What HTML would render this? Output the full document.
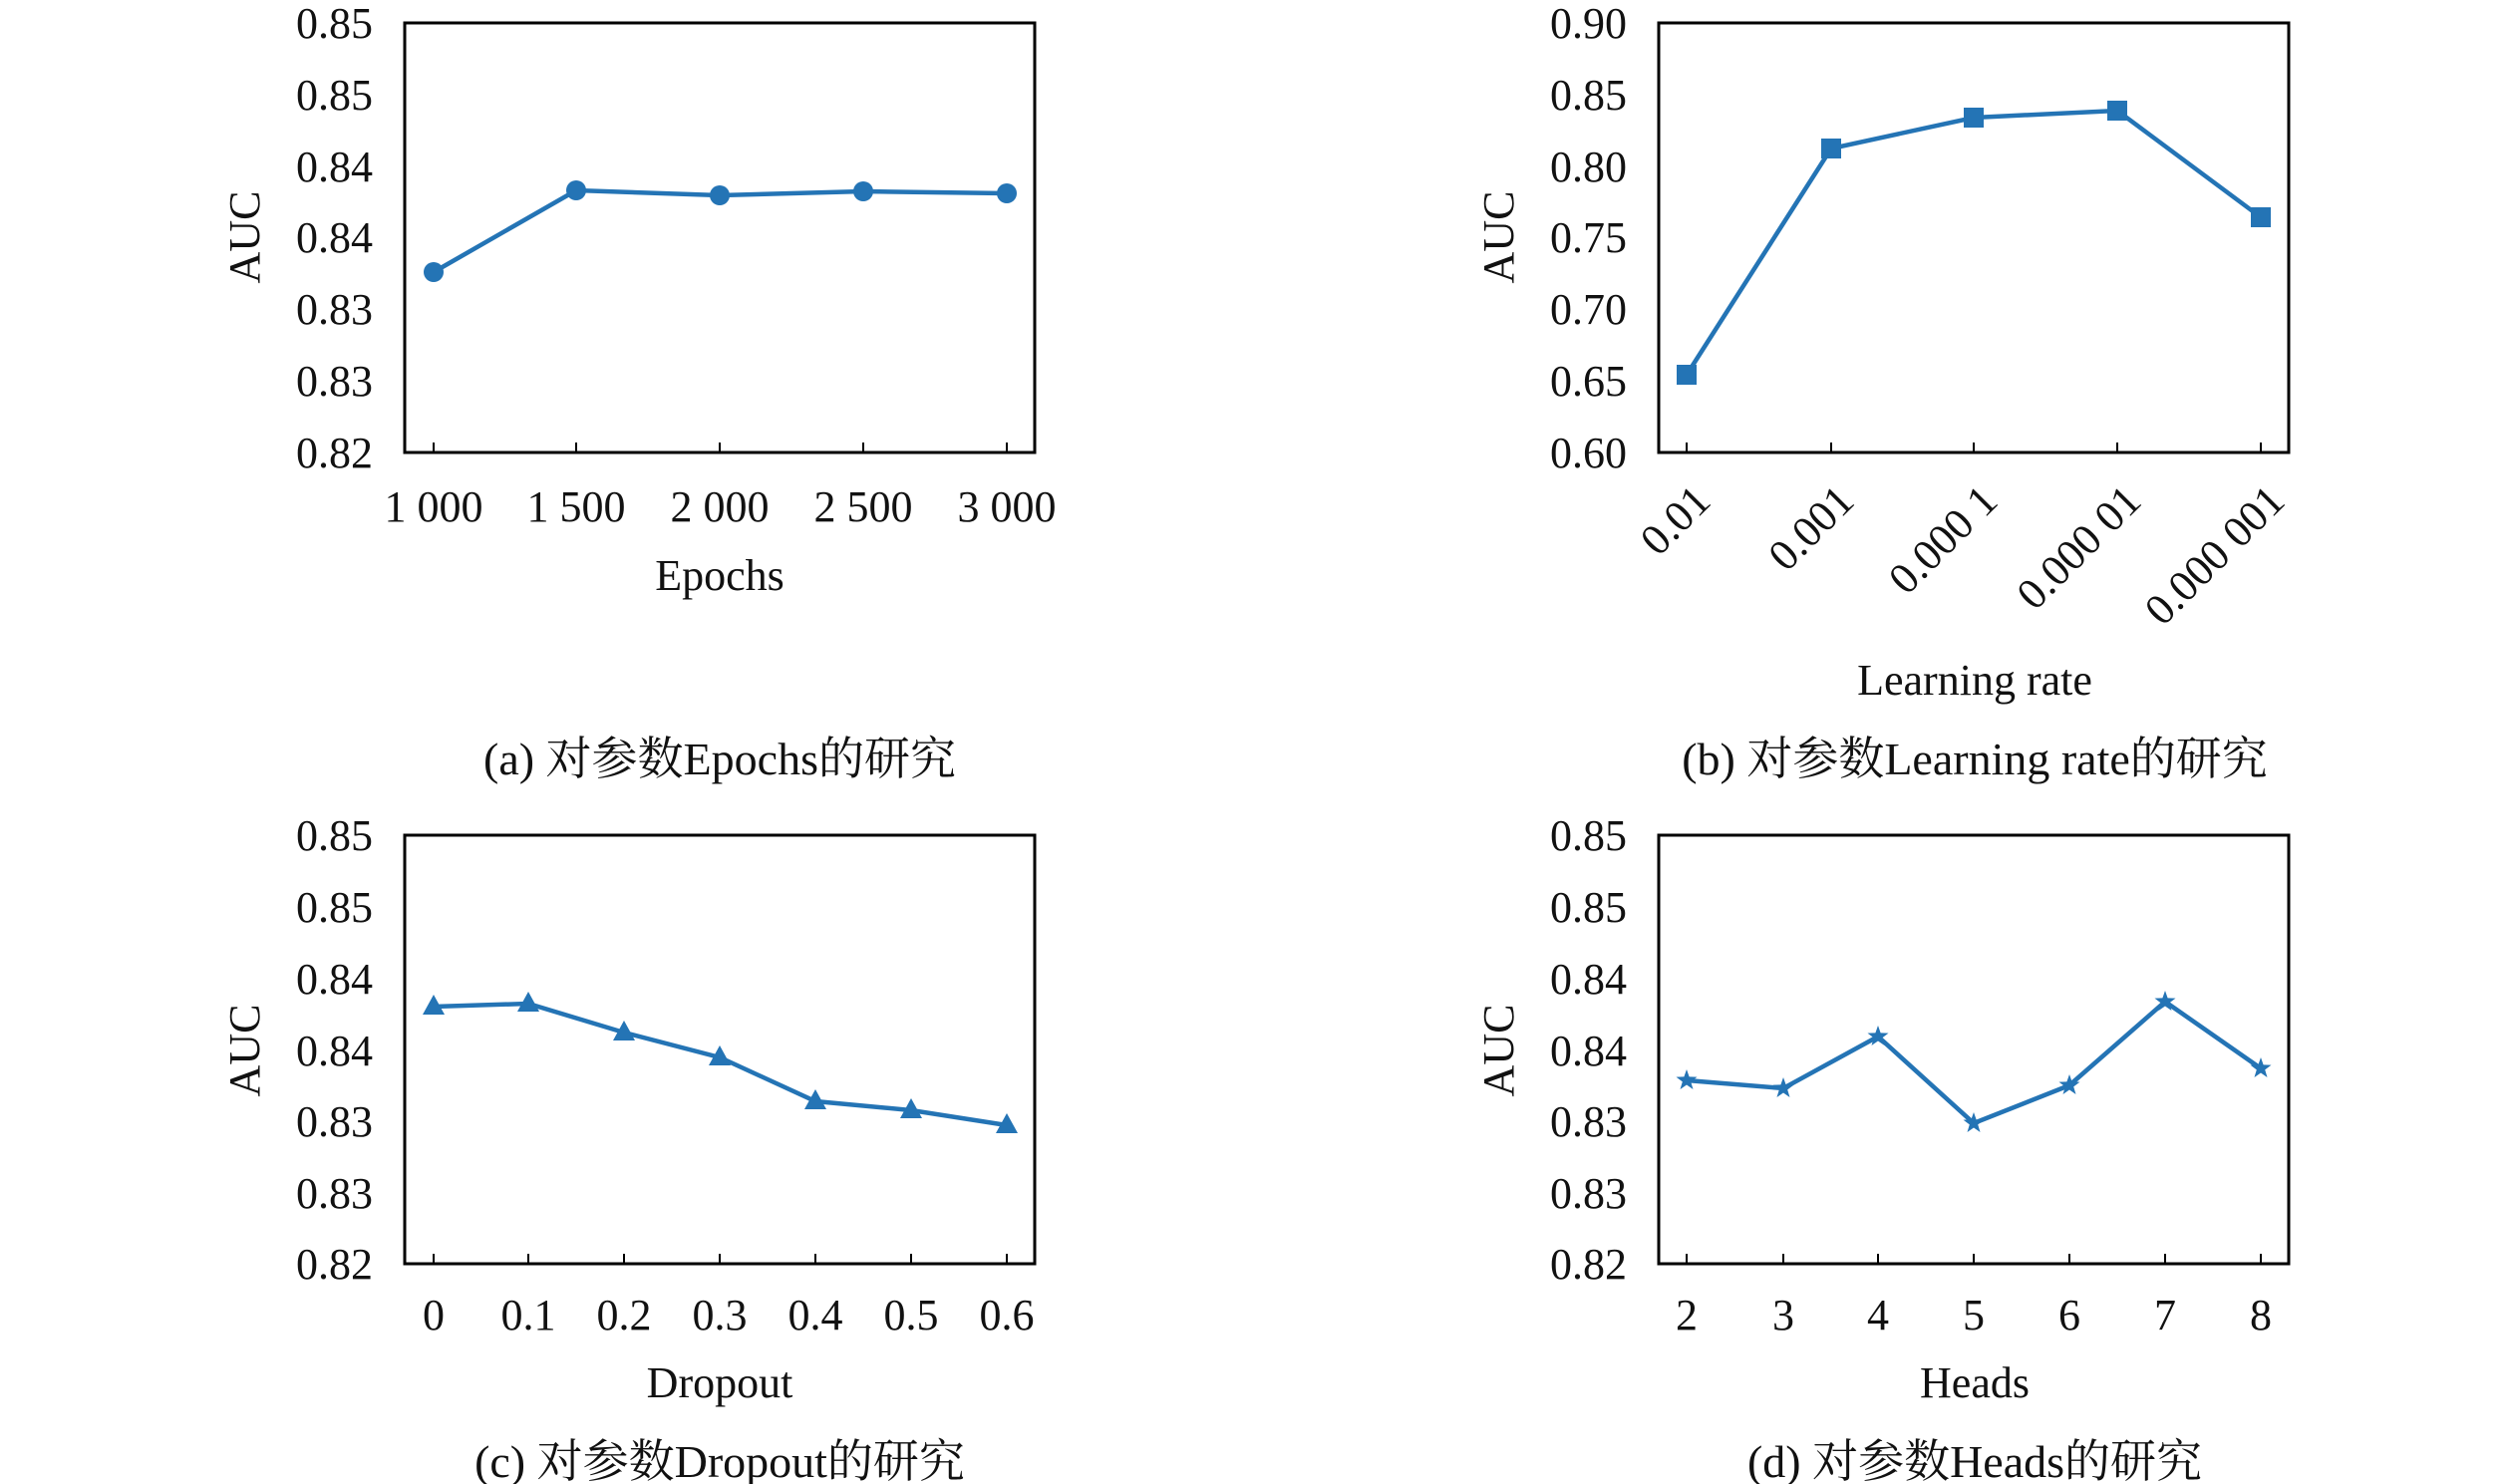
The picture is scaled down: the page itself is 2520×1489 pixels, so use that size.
<!DOCTYPE html>
<html><head><meta charset="utf-8"><style>
html,body{margin:0;padding:0;background:#fff;}
svg{display:block;}
text{font-family:"Liberation Serif","Noto Serif CJK SC","Noto Sans CJK SC",serif;fill:#111;}
.t{font-size:44px;}
.cap{font-size:46px;}
</style></head><body>
<svg width="2520" height="1489" viewBox="0 0 2520 1489" xmlns="http://www.w3.org/2000/svg">
<defs>
<symbol id="star" viewBox="-10 -10 20 20" overflow="visible">
<polygon points="0,-11 2.6,-3.6 10.5,-3.4 4.2,1.4 6.5,9 0,4.5 -6.5,9 -4.2,1.4 -10.5,-3.4 -2.6,-3.6" fill="#2474b5"/>
</symbol>
</defs>

<!-- Panel a -->
<g>
<rect x="406" y="23" width="632" height="431" fill="none" stroke="#000" stroke-width="3"/>
<g stroke="#000" stroke-width="2">
<line x1="435" y1="454" x2="435" y2="444"/><line x1="578" y1="454" x2="578" y2="444"/><line x1="722" y1="454" x2="722" y2="444"/><line x1="866" y1="454" x2="866" y2="444"/><line x1="1010" y1="454" x2="1010" y2="444"/>
</g>
<g class="t" text-anchor="end">
<text x="374" y="38">0.85</text><text x="374" y="110">0.85</text><text x="374" y="182">0.84</text><text x="374" y="253">0.84</text><text x="374" y="325">0.83</text><text x="374" y="397">0.83</text><text x="374" y="469">0.82</text>
</g>
<g class="t" text-anchor="middle">
<text x="435" y="523">1 000</text><text x="578" y="523">1 500</text><text x="722" y="523">2 000</text><text x="866" y="523">2 500</text><text x="1010" y="523">3 000</text>
<text x="722" y="592">Epochs</text>
<text transform="translate(260,238) rotate(-90)">AUC</text>
</g>
<polyline points="435,273 578,191 722,196 866,192 1010,194" fill="none" stroke="#2474b5" stroke-width="4.5"/>
<g fill="#2474b5"><circle cx="435" cy="273" r="10"/><circle cx="578" cy="191" r="10"/><circle cx="722" cy="196" r="10"/><circle cx="866" cy="192" r="10"/><circle cx="1010" cy="194" r="10"/></g>
<text class="cap" x="722" y="777" text-anchor="middle">(a) 对参数Epochs的研究</text>
</g>

<!-- Panel b -->
<g>
<rect x="1664" y="23" width="632" height="431" fill="none" stroke="#000" stroke-width="3"/>
<g stroke="#000" stroke-width="2">
<line x1="1692" y1="454" x2="1692" y2="444"/><line x1="1837" y1="454" x2="1837" y2="444"/><line x1="1980" y1="454" x2="1980" y2="444"/><line x1="2124" y1="454" x2="2124" y2="444"/><line x1="2268" y1="454" x2="2268" y2="444"/>
</g>
<g class="t" text-anchor="end">
<text x="1632" y="38">0.90</text><text x="1632" y="110">0.85</text><text x="1632" y="182">0.80</text><text x="1632" y="253">0.75</text><text x="1632" y="325">0.70</text><text x="1632" y="397">0.65</text><text x="1632" y="469">0.60</text>
</g>
<g class="t" text-anchor="end">
<text transform="translate(1718,505) rotate(-45)">0.01</text>
<text transform="translate(1862,505) rotate(-45)">0.001</text>
<text transform="translate(2006,505) rotate(-45)">0.000 1</text>
<text transform="translate(2150,505) rotate(-45)">0.000 01</text>
<text transform="translate(2294,505) rotate(-45)">0.000 001</text>
</g>
<g class="t" text-anchor="middle">
<text x="1981" y="697">Learning rate</text>
<text transform="translate(1518,238) rotate(-90)">AUC</text>
</g>
<polyline points="1692,376 1837,149 1980,118 2124,111 2268,218" fill="none" stroke="#2474b5" stroke-width="4.5"/>
<g fill="#2474b5"><rect x="1682" y="366" width="20" height="20"/><rect x="1827" y="139" width="20" height="20"/><rect x="1970" y="108" width="20" height="20"/><rect x="2114" y="101" width="20" height="20"/><rect x="2258" y="208" width="20" height="20"/></g>
<text class="cap" x="1981" y="777" text-anchor="middle">(b) 对参数Learning rate的研究</text>
</g>

<!-- Panel c -->
<g>
<rect x="406" y="838" width="632" height="430" fill="none" stroke="#000" stroke-width="3"/>
<g stroke="#000" stroke-width="2">
<line x1="435" y1="1268" x2="435" y2="1258"/><line x1="530" y1="1268" x2="530" y2="1258"/><line x1="626" y1="1268" x2="626" y2="1258"/><line x1="722" y1="1268" x2="722" y2="1258"/><line x1="818" y1="1268" x2="818" y2="1258"/><line x1="914" y1="1268" x2="914" y2="1258"/><line x1="1010" y1="1268" x2="1010" y2="1258"/>
</g>
<g class="t" text-anchor="end">
<text x="374" y="853">0.85</text><text x="374" y="925">0.85</text><text x="374" y="997">0.84</text><text x="374" y="1069">0.84</text><text x="374" y="1140">0.83</text><text x="374" y="1212">0.83</text><text x="374" y="1283">0.82</text>
</g>
<g class="t" text-anchor="middle">
<text x="435" y="1334">0</text><text x="530" y="1334">0.1</text><text x="626" y="1334">0.2</text><text x="722" y="1334">0.3</text><text x="818" y="1334">0.4</text><text x="914" y="1334">0.5</text><text x="1010" y="1334">0.6</text>
<text x="722" y="1402">Dropout</text>
<text transform="translate(260,1054) rotate(-90)">AUC</text>
</g>
<polyline points="435,1010 530,1007 626,1036 722,1061 818,1105 914,1114 1010,1129" fill="none" stroke="#2474b5" stroke-width="4.5"/>
<g fill="#2474b5">
<polygon points="435,998 446,1018 424,1018"/><polygon points="530,995 541,1015 519,1015"/><polygon points="626,1024 637,1044 615,1044"/><polygon points="722,1049 733,1069 711,1069"/><polygon points="818,1093 829,1113 807,1113"/><polygon points="914,1102 925,1122 903,1122"/><polygon points="1010,1117 1021,1137 999,1137"/>
</g>
<text class="cap" x="722" y="1482" text-anchor="middle">(c) 对参数Dropout的研究</text>
</g>

<!-- Panel d -->
<g>
<rect x="1664" y="838" width="632" height="430" fill="none" stroke="#000" stroke-width="3"/>
<g stroke="#000" stroke-width="2">
<line x1="1692" y1="1268" x2="1692" y2="1258"/><line x1="1789" y1="1268" x2="1789" y2="1258"/><line x1="1884" y1="1268" x2="1884" y2="1258"/><line x1="1980" y1="1268" x2="1980" y2="1258"/><line x1="2076" y1="1268" x2="2076" y2="1258"/><line x1="2172" y1="1268" x2="2172" y2="1258"/><line x1="2268" y1="1268" x2="2268" y2="1258"/>
</g>
<g class="t" text-anchor="end">
<text x="1632" y="853">0.85</text><text x="1632" y="925">0.85</text><text x="1632" y="997">0.84</text><text x="1632" y="1069">0.84</text><text x="1632" y="1140">0.83</text><text x="1632" y="1212">0.83</text><text x="1632" y="1283">0.82</text>
</g>
<g class="t" text-anchor="middle">
<text x="1692" y="1334">2</text><text x="1789" y="1334">3</text><text x="1884" y="1334">4</text><text x="1980" y="1334">5</text><text x="2076" y="1334">6</text><text x="2172" y="1334">7</text><text x="2268" y="1334">8</text>
<text x="1981" y="1402">Heads</text>
<text transform="translate(1518,1054) rotate(-90)">AUC</text>
</g>
<polyline points="1692,1084 1789,1092 1884,1040 1980,1127 2076,1089 2172,1005 2268,1072" fill="none" stroke="#2474b5" stroke-width="4.5"/>
<use href="#star" x="1682" y="1074" width="20" height="20"/>
<use href="#star" x="1779" y="1082" width="20" height="20"/>
<use href="#star" x="1874" y="1030" width="20" height="20"/>
<use href="#star" x="1970" y="1117" width="20" height="20"/>
<use href="#star" x="2066" y="1079" width="20" height="20"/>
<use href="#star" x="2162" y="995" width="20" height="20"/>
<use href="#star" x="2258" y="1062" width="20" height="20"/>
<text class="cap" x="1981" y="1482" text-anchor="middle">(d) 对参数Heads的研究</text>
</g>
</svg>
</body></html>
